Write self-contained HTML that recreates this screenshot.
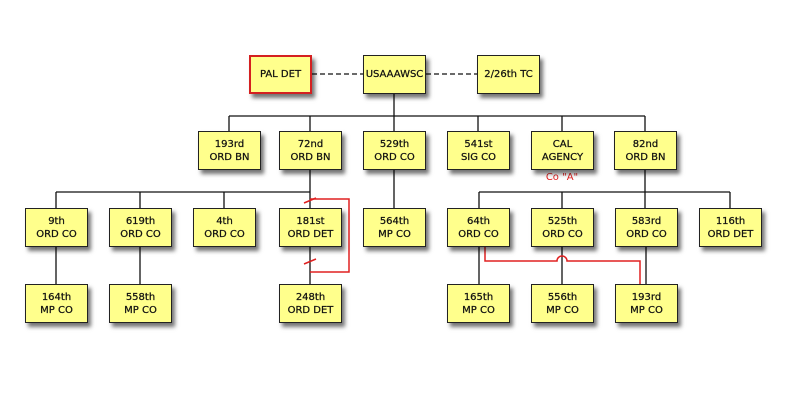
<!DOCTYPE html>
<html><head><style>
body{margin:0;width:800px;height:400px;background:#fff;overflow:hidden;position:relative;font-family:"DejaVu Sans","Liberation Sans",sans-serif}
.b{position:absolute;width:61px;height:37px;background:#ffff8c;border:1px solid #222;box-shadow:3px 4px 4px rgba(0,0,0,.55);font-size:10px;line-height:13px;display:flex;align-items:center;justify-content:center;text-align:center;color:#111;-webkit-text-stroke:0.25px #111}
svg{position:absolute;left:0;top:0}
</style></head><body>
<svg width="800" height="400">
<g stroke="#111" stroke-width="1.3" fill="none">
<line x1="312" y1="74" x2="363" y2="74" stroke-dasharray="5,3"/>
<line x1="426" y1="74" x2="477" y2="74" stroke-dasharray="5,3"/>
<line x1="394" y1="93" x2="394" y2="131"/>
<line x1="229" y1="116" x2="645" y2="116"/>
<line x1="229" y1="116" x2="229" y2="131"/><line x1="310" y1="116" x2="310" y2="131"/>
<line x1="478" y1="116" x2="478" y2="131"/><line x1="562" y1="116" x2="562" y2="131"/><line x1="645" y1="116" x2="645" y2="131"/>
<line x1="310" y1="169" x2="310" y2="208"/>
<line x1="56" y1="192" x2="310" y2="192"/>
<line x1="56" y1="192" x2="56" y2="208"/><line x1="140" y1="192" x2="140" y2="208"/><line x1="224" y1="192" x2="224" y2="208"/>
<line x1="394" y1="169" x2="394" y2="208"/>
<line x1="645" y1="169" x2="645" y2="208"/>
<line x1="479" y1="192" x2="730" y2="192"/>
<line x1="479" y1="192" x2="479" y2="208"/><line x1="562" y1="192" x2="562" y2="208"/><line x1="730" y1="192" x2="730" y2="208"/>
<line x1="56" y1="246" x2="56" y2="284"/><line x1="140" y1="246" x2="140" y2="284"/><line x1="310" y1="246" x2="310" y2="284"/>
<line x1="479" y1="246" x2="479" y2="284"/><line x1="562" y1="246" x2="562" y2="284"/><line x1="646" y1="246" x2="646" y2="284"/>
</g>
<g stroke="#e02020" stroke-width="1.5" fill="none">
<polyline points="310,199 349,199 349,272 310,272"/>
<line x1="304" y1="203" x2="316" y2="198"/><line x1="304" y1="264" x2="316" y2="259"/>
<path d="M485,246 V261 H557 A5,5 0 0 1 567,261 H640 V284"/>
</g>
<text x="562" y="180" fill="#e02020" font-size="10" text-anchor="middle" font-family="DejaVu Sans,sans-serif">Co "A"</text>
</svg>
<div class="b" style="left:249px;top:55px;border:2px solid #d42020;width:59px;height:35px">PAL DET</div>
<div class="b" style="left:363px;top:55px">USAAAWSC</div>
<div class="b" style="left:477px;top:55px">2/26th TC</div>
<div class="b" style="left:198px;top:131px">193rd<br>ORD BN</div>
<div class="b" style="left:279px;top:131px">72nd<br>ORD BN</div>
<div class="b" style="left:363px;top:131px">529th<br>ORD CO</div>
<div class="b" style="left:447px;top:131px">541st<br>SIG CO</div>
<div class="b" style="left:531px;top:131px">CAL<br>AGENCY</div>
<div class="b" style="left:614px;top:131px">82nd<br>ORD BN</div>
<div class="b" style="left:25px;top:208px">9th<br>ORD CO</div>
<div class="b" style="left:109px;top:208px">619th<br>ORD CO</div>
<div class="b" style="left:193px;top:208px">4th<br>ORD CO</div>
<div class="b" style="left:279px;top:208px">181st<br>ORD DET</div>
<div class="b" style="left:363px;top:208px">564th<br>MP CO</div>
<div class="b" style="left:447px;top:208px">64th<br>ORD CO</div>
<div class="b" style="left:531px;top:208px">525th<br>ORD CO</div>
<div class="b" style="left:615px;top:208px">583rd<br>ORD CO</div>
<div class="b" style="left:699px;top:208px">116th<br>ORD DET</div>
<div class="b" style="left:25px;top:284px">164th<br>MP CO</div>
<div class="b" style="left:109px;top:284px">558th<br>MP CO</div>
<div class="b" style="left:279px;top:284px">248th<br>ORD DET</div>
<div class="b" style="left:447px;top:284px">165th<br>MP CO</div>
<div class="b" style="left:531px;top:284px">556th<br>MP CO</div>
<div class="b" style="left:615px;top:284px">193rd<br>MP CO</div>
</body></html>
